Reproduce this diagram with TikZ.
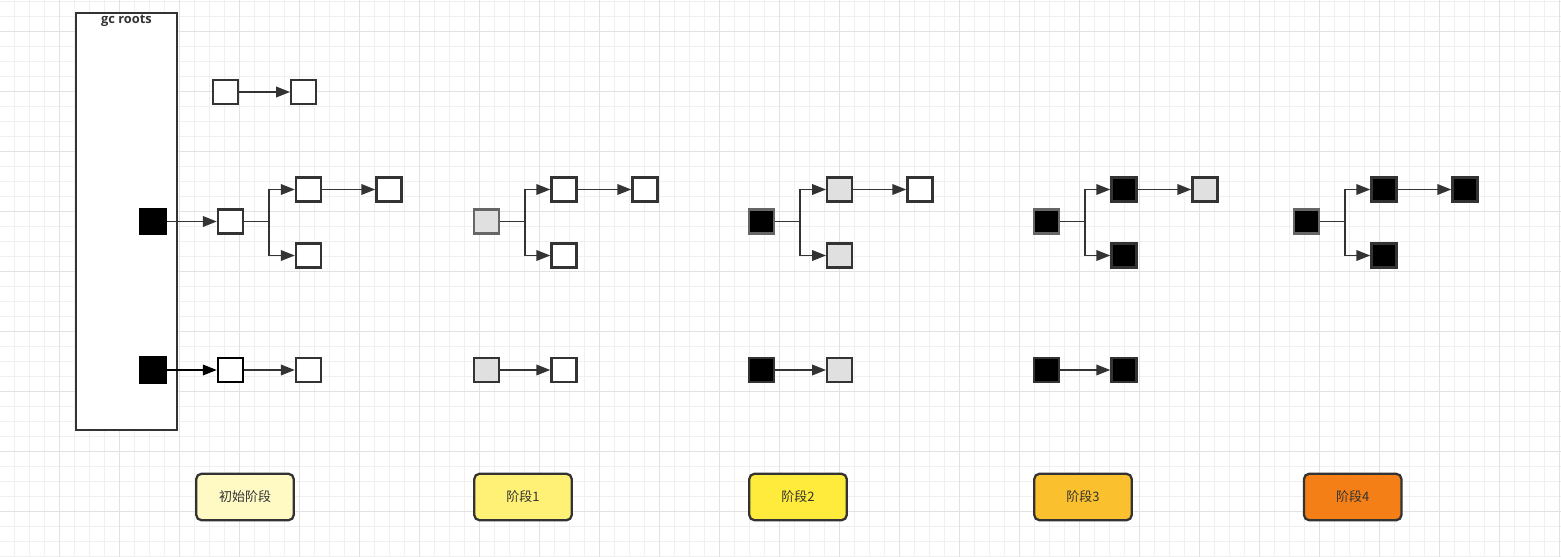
\documentclass[tikz,border=0pt]{standalone}
\usepackage{fontspec}
\setmainfont{Noto Sans CJK SC}
\newfontfamily\rootfont{Open Sans}
\usetikzlibrary{arrows.meta}

\definecolor{linegray}{HTML}{333333}
\definecolor{objgray}{HTML}{E0E0E0}
\definecolor{gridminor}{HTML}{F0F0F0}
\definecolor{gridmajor}{HTML}{E2E2E2}
\definecolor{stagezero}{HTML}{FFF9C4}
\definecolor{stageone}{HTML}{FFF176}
\definecolor{stagetwo}{HTML}{FFEB3B}
\definecolor{stagethree}{HTML}{FBC02D}
\definecolor{stagefour}{HTML}{F57F17}

\tikzset{
  obj/.style={draw=linegray,line width=1.3pt,fill=white,minimum width=0.5cm,minimum height=0.48cm,inner sep=0pt},
  objg/.style={obj,fill=objgray},
  objb/.style={obj,fill=black},
  rootobj/.style={draw=black,fill=black,minimum size=0.53cm,inner sep=0pt},
  wire/.style={draw=linegray,line width=1.1pt},
  stagebox/.style={draw=linegray,line width=1.3pt,rounded corners=3pt,minimum width=1.95cm,minimum height=0.93cm,
    font=\fontsize{7.4}{9}\selectfont,text=linegray}
}

\begin{document}
\begin{tikzpicture}[x=0.02cm, y=-0.02cm, >={Triangle[length=8pt,width=6pt]}]
    \useasboundingbox (0,0) rectangle (1561,557);
    % 网格背景
    \foreach \x in {14.3,29.3,...,1561} \draw[gridminor,line width=0.5pt] (\x,0)--(\x,557);
    \foreach \y in {1,16,...,557} \draw[gridminor,line width=0.5pt] (0,\y)--(1561,\y);
    \foreach \x in {59.3,119.3,...,1561} \draw[gridmajor,line width=0.5pt] (\x,0)--(\x,557);
    \foreach \y in {31,91,...,557} \draw[gridmajor,line width=0.5pt] (0,\y)--(1561,\y);

    % gc roots
    \node[draw=linegray,line width=1.3pt,fill=white,minimum width=2.03cm,minimum height=8.35cm] (roots) at (126.5,221.5) {};
    \node[font=\rootfont\bfseries\fontsize{7.3}{8}\selectfont,text=linegray] (rootslbl) at (126.5,21) {gc roots};
    \node[rootobj] (r1) at (153,221.5) {};
    \node[rootobj] (r2) at (153,370) {};

    % 初始阶段
    \node[obj] (u1) at (225.5,92) {};
    \node[obj] (u2) at (303.7,92) {};
    \node[obj] (a0) at (230.5,221.5) {};
    \node[obj] (b0) at (308.5,189.5) {};
    \node[obj] (c0) at (389,189.5) {};
    \node[obj] (d0) at (308.5,255.5) {};
    \node[obj,draw=black] (e0) at (230.5,370) {};
    \node[obj] (f0) at (308.5,370) {};
    \coordinate (j0) at (269.3,221.5);
    \draw[wire,->] (u1)--(u2); \draw[wire,->] (r1)--(a0); \draw[wire] (a0)--(j0);
    \draw[wire,->] (j0)|-(b0); \draw[wire,->] (j0)|-(d0); \draw[wire,->] (b0)--(c0);
    \draw[wire,draw=black,->] (r2)--(e0); \draw[wire,->] (e0)--(f0);

    % 阶段1
    \node[objg,draw=gray!80!black] (a1) at (486.5,221.5) {};
    \node[obj] (b1) at (564,189.5) {};
    \node[obj] (c1) at (645,189.5) {};
    \node[obj] (d1) at (564,255.5) {};
    \node[objg] (e1) at (486.5,370) {};
    \node[obj] (f1) at (564,370) {};
    \coordinate (j1) at (525,221.5);
    \draw[wire] (a1)--(j1); \draw[wire,->] (j1)|-(b1); \draw[wire,->] (j1)|-(d1);
    \draw[wire,->] (b1)--(c1); \draw[wire,->] (e1)--(f1);

    % 阶段2
    \node[objb,draw=gray!80!black] (a2) at (761.3,221.5) {};
    \node[objg] (b2) at (839.7,189.5) {};
    \node[obj] (c2) at (920,189.5) {};
    \node[objg] (d2) at (839.7,255.5) {};
    \node[objb] (e2) at (761.3,370) {};
    \node[objg] (f2) at (839.7,370) {};
    \coordinate (j2) at (800,221.5);
    \draw[wire] (a2)--(j2); \draw[wire,->] (j2)|-(b2); \draw[wire,->] (j2)|-(d2);
    \draw[wire,->] (b2)--(c2); \draw[wire,->] (e2)--(f2);

    % 阶段3
    \node[objb,draw=gray!80!black] (a3) at (1046.5,221.5) {};
    \node[objb] (b3) at (1124,189.5) {};
    \node[objg] (c3) at (1205,189.5) {};
    \node[objb] (d3) at (1124,255.5) {};
    \node[objb] (e3) at (1046.5,370) {};
    \node[objb] (f3) at (1124,370) {};
    \coordinate (j3) at (1085,221.5);
    \draw[wire] (a3)--(j3); \draw[wire,->] (j3)|-(b3); \draw[wire,->] (j3)|-(d3);
    \draw[wire,->] (b3)--(c3); \draw[wire,->] (e3)--(f3);

    % 阶段4
    \node[objb,draw=gray!80!black] (a4) at (1306.7,221.5) {};
    \node[objb] (b4) at (1384,189.5) {};
    \node[objb] (c4) at (1465,189.5) {};
    \node[objb] (d4) at (1384,255.5) {};
    \coordinate (j4) at (1345,221.5);
    \draw[wire] (a4)--(j4); \draw[wire,->] (j4)|-(b4); \draw[wire,->] (j4)|-(d4);
    \draw[wire,->] (b4)--(c4);

    % 阶段标签
    \node[stagebox,fill=stagezero] (s0) at (245,497) {初始阶段};
    \node[stagebox,fill=stageone] (s1) at (523,497) {阶段1};
    \node[stagebox,fill=stagetwo] (s2) at (798,497) {阶段2};
    \node[stagebox,fill=stagethree] (s3) at (1083,497) {阶段3};
    \node[stagebox,fill=stagefour] (s4) at (1352.7,497) {阶段4};
\end{tikzpicture}
\end{document}
